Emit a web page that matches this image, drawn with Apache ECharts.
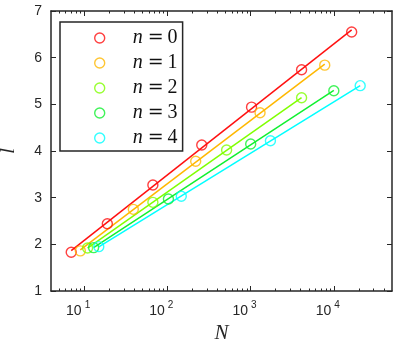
<!DOCTYPE html>
<html>
<head>
<meta charset="utf-8">
<script src="https://cdn.jsdelivr.net/npm/echarts@6/dist/echarts.min.js"></script>
<style>
  html, body { margin: 0; padding: 0; background: #fff; }
  #chart { width: 407px; height: 357px; }
</style>
</head>
<body>
<div id="chart"></div>
<script>
// system sizes N and lengths l for each n
const N0 = [7, 19, 67, 259, 1027, 4099, 16387]
const l0 = [1.83, 2.44, 3.27, 4.13, 4.94, 5.74, 6.55]
const N1 = [9, 39, 219, 1299, 7779]
const l1 = [1.86, 2.75, 3.78, 4.82, 5.84]
const N2 = [11, 67, 515, 4099]
const l2 = [1.92, 2.90, 4.02, 5.14]
const N3 = [13, 103, 1003, 10003]
const l3 = [1.93, 2.97, 4.15, 5.29]
const N4 = [15, 147, 1731, 20739]
const l4 = [1.95, 3.03, 4.22, 5.40]

const seriesN = [N0, N1, N2, N3, N4]
const seriesL = [l0, l1, l2, l3, l4]
const nLabels = ['0', '1', '2', '3', '4']
const colors = ['#ff1010', '#ffb800', '#80ff00', '#10f030', '#00ffff']

const xMajorTicks = [10, 100, 1000, 10000]
const xMinorTicks = [5, 6, 7, 8, 9, 20, 30, 40, 50, 60, 70, 80, 90,
  200, 300, 400, 500, 600, 700, 800, 900,
  2000, 3000, 4000, 5000, 6000, 7000, 8000, 9000,
  20000, 30000, 40000]
const yTicks = [1, 2, 3, 4, 5, 6, 7]

const axisColor = '#262626'

// least squares fit l = a + b*log10(N)
function fitLine(ns, ls) {
  const xs = ns.map((v) => Math.log10(v))
  const n = xs.length
  const mx = xs.reduce((s, v) => s + v, 0) / n
  const my = ls.reduce((s, v) => s + v, 0) / n
  let sxy = 0, sxx = 0
  for (let i = 0; i < n; i++) {
    sxy += (xs[i] - mx) * (ls[i] - my)
    sxx += (xs[i] - mx) * (xs[i] - mx)
  }
  const b = sxy / sxx
  const a = my - b * mx
  const first = ns[0], last = ns[n - 1]
  return [[first, a + b * Math.log10(first)], [last, a + b * Math.log10(last)]]
}

const chart = echarts.init(document.getElementById('chart'))

const baseX = {
  type: 'log',
  min: 4,
  max: 50000,
  splitLine: { show: false },
  axisLabel: { show: false },
  axisLine: { show: false }
}

const xAxes = [
  {
    ...baseX,
    position: 'bottom',
    axisLine: { show: true, onZero: false, lineStyle: { color: axisColor, width: 1.5 } },
    axisTick: { inside: true, length: 5, customValues: xMajorTicks, lineStyle: { color: axisColor, width: 1 } },
    axisLabel: {
      show: true,
      customValues: xMajorTicks,
      margin: 9,
      formatter: (v) => '{b|10}{s|' + Math.round(Math.log10(v)) + '}',
      rich: {
        b: { fontFamily: 'Liberation Sans', fontSize: 14, color: axisColor, lineHeight: 18, verticalAlign: 'bottom' },
        s: { fontFamily: 'Liberation Sans', fontSize: 10, color: axisColor, verticalAlign: 'top', padding: [0, 12, 0, 3] }
      }
    },
    name: 'N',
    nameLocation: 'middle',
    nameGap: 31,
    nameTextStyle: { fontFamily: 'Liberation Serif', fontStyle: 'italic', fontSize: 21, color: axisColor }
  },
  {
    ...baseX,
    position: 'bottom',
    axisTick: { inside: true, length: 2.5, customValues: xMinorTicks, lineStyle: { color: axisColor, width: 1 } }
  },
  {
    ...baseX,
    position: 'top',
    axisLine: { show: true, onZero: false, lineStyle: { color: axisColor, width: 1.5 } },
    axisTick: { inside: true, length: 5, customValues: xMajorTicks, lineStyle: { color: axisColor, width: 1 } }
  },
  {
    ...baseX,
    position: 'top',
    axisTick: { inside: true, length: 2.5, customValues: xMinorTicks, lineStyle: { color: axisColor, width: 1 } }
  }
]

const yAxes = [
  {
    type: 'value',
    position: 'left',
    min: 1,
    max: 7,
    interval: 1,
    splitLine: { show: false },
    axisLine: { show: true, onZero: false, lineStyle: { color: axisColor, width: 1.5 } },
    axisTick: { inside: true, length: 5, lineStyle: { color: axisColor, width: 1 } },
    axisLabel: {
      margin: 9,
      fontFamily: 'Liberation Sans',
      fontSize: 14,
      color: axisColor,
      formatter: (v) => (yTicks.includes(v) ? String(v) : '')
    },
    name: 'l',
    nameLocation: 'middle',
    nameGap: 32,
    nameTextStyle: { fontFamily: 'Liberation Serif', fontStyle: 'italic', fontSize: 22, color: axisColor }
  },
  {
    type: 'value',
    position: 'right',
    min: 1,
    max: 7,
    interval: 1,
    splitLine: { show: false },
    axisLine: { show: true, onZero: false, lineStyle: { color: axisColor, width: 1.5 } },
    axisTick: { inside: true, length: 5, lineStyle: { color: axisColor, width: 1 } },
    axisLabel: { show: false }
  }
]

const names = nLabels.map((k) => 'n = ' + k)
const series = []

seriesN.forEach((ns, i) => {
  series.push({
    type: 'line',
    data: fitLine(ns, seriesL[i]),
    showSymbol: false,
    silent: true,
    lineStyle: { color: colors[i], width: 1.5 },
    z: 2
  })
})

seriesN.forEach((ns, i) => {
  series.push({
    name: names[i],
    type: 'scatter',
    data: ns.map((v, j) => [v, seriesL[i][j]]),
    symbol: 'circle',
    symbolSize: 10,
    itemStyle: { color: 'rgba(255,255,255,0)', borderColor: colors[i], borderWidth: 1.4 },
    z: 3
  })
})

chart.setOption({
  animation: false,
  backgroundColor: '#fff',
  grid: { left: 51, right: 15, top: 11, bottom: 66, outerBoundsMode: 'none' },
  xAxis: xAxes,
  yAxis: yAxes,
  legend: {
    data: names,
    orient: 'vertical',
    left: 60,
    top: 22,
    backgroundColor: '#fff',
    borderColor: axisColor,
    borderWidth: 1.5,
    borderRadius: 0,
    padding: [6, 5, 3, 34],
    itemWidth: 10,
    itemHeight: 10,
    itemGap: 5,
    itemStyle: { borderWidth: 1.4 },
    formatter: (name) => '{n|n}{e|=}{d|' + name.slice(-1) + '}',
    textStyle: {
      rich: {
        n: { fontFamily: 'Liberation Serif', fontStyle: 'italic', fontSize: 20, color: '#111', padding: [0, 0, 0, 23], lineHeight: 19 },
        e: { fontFamily: 'DejaVu Serif', fontSize: 19, color: '#111', padding: [0, 4, 0, 5], lineHeight: 19 },
        d: { fontFamily: 'Liberation Serif', fontSize: 20, color: '#111', lineHeight: 19 }
      }
    }
  },
  series: series
})
</script>
</body>
</html>
